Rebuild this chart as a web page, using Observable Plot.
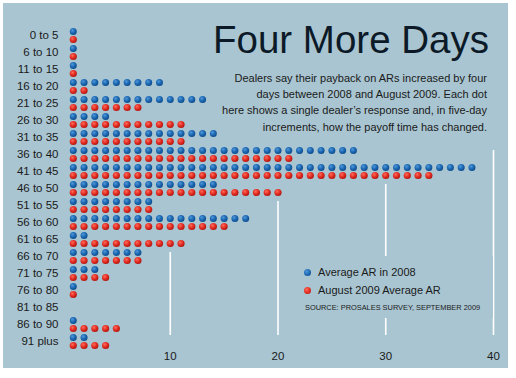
<!DOCTYPE html>
<html><head><meta charset="utf-8">
<script src="https://cdn.jsdelivr.net/npm/d3@7"></script>
<script src="https://cdn.jsdelivr.net/npm/@observablehq/plot@0.6"></script>
<style>
html,body{margin:0;padding:0;background:#fff;}
#wrap{position:relative;width:516px;height:378px;overflow:hidden;font-family:"Liberation Sans",Arial,sans-serif;color:#1a1a1a;}
#panel{position:absolute;left:3px;top:3px;width:505px;height:365px;background:#a9c5d1;}
#chart{position:absolute;left:0;top:0;}
#title{position:absolute;right:27px;top:21px;font-size:38.5px;line-height:1;color:#0c1a28;white-space:nowrap;}
#sub{position:absolute;right:29px;top:70px;text-align:right;font-size:11px;line-height:16.2px;white-space:nowrap;}
#legend{position:absolute;left:298px;top:256px;width:195px;height:62px;background:#a9c5d1;}
.item{position:absolute;left:20px;font-size:11px;line-height:14px;white-space:nowrap;}
.sw{position:absolute;left:-14px;top:3.5px;width:7px;height:7px;border-radius:50%;}
#src{position:absolute;left:7px;top:47px;font-size:7.4px;letter-spacing:0;white-space:nowrap;}
</style></head>
<body>
<div id="wrap">
  <div id="panel"></div>
  <div id="chart"></div>
  <div id="title">Four More Days</div>
  <div id="sub">Dealers say their payback on ARs increased by four<br>days between 2008 and August 2009. Each dot<br>here shows a single dealer’s response and, in five-day<br>increments, how the payoff time has changed.</div>
  <div id="legend"></div>
</div>
<script>
const rows = ["0 to 5","6 to 10","11 to 15","16 to 20","21 to 25","26 to 30","31 to 35","36 to 40","41 to 45","46 to 50","51 to 55","56 to 60","61 to 65","66 to 70","71 to 75","76 to 80","81 to 85","86 to 90","91 plus"];
const avg2008 = [1,1,1,9,13,4,14,27,38,14,8,17,2,7,3,1,0,1,2];
const aug2009 = [1,1,1,2,7,11,11,21,34,20,8,15,11,7,4,1,0,5,4];
const xTicks = [10,20,30,40];
const seriesNames = ["Average AR in 2008","August 2009 Average AR"];
const sourceText = "SOURCE: PROSALES SURVEY, SEPTEMBER 2009";

const blueDots = rows.flatMap((r,i)=>d3.range(1,avg2008[i]+1).map(k=>({row:r,k})));
const redDots = rows.flatMap((r,i)=>d3.range(1,aug2009[i]+1).map(k=>({row:r,k})));

// gridline segments start below the last row that reaches the tick value
const maxes = rows.map((r,i)=>Math.max(avg2008[i],aug2009[i]));
const longest = maxes.indexOf(d3.max(maxes));
const grid = xTicks.map(t=>{
  let idx = -1;
  maxes.forEach((m,i)=>{ if (m>=t) idx=i; });
  if (idx<0) idx = longest-2;
  return {t, from: rows[idx]};
});

const plot = Plot.plot({
  width:516, height:378,
  marginLeft:62, marginRight:23, marginTop:0, marginBottom:30,
  style:{background:"transparent", fontFamily:'"Liberation Sans",Arial,sans-serif', fontSize:"11.5px", color:"#1a1a1a"},
  x:{domain:[0,40], label:null},
  y:{type:"point", domain:rows, range:[25,351], label:null},
  marks:[
    Plot.ruleX(grid, {x:"t", y1:"from", y2:()=>rows[rows.length-1], insetTop:13, insetBottom:6, stroke:"white", strokeWidth:1.6}),
    Plot.dot(blueDots, {x:"k", y:"row", dy:-4, r:3.5, fill:"url(#gBlue)"}),
    Plot.dot(redDots, {x:"k", y:"row", dy:4, r:3.6, fill:"url(#gRed)"}),
    Plot.axisY({tickSize:0, tickPadding:4, fontSize:11.5}),
    Plot.axisX({ticks:xTicks, tickSize:0, tickPadding:3, fontSize:11.5})
  ]
});

const defs = d3.select(plot).insert("defs", ":first-child");
function grad(id, c0, c1, c2){
  const g = defs.append("radialGradient").attr("id",id).attr("cx","38%").attr("cy","35%").attr("r","70%");
  g.append("stop").attr("offset","0%").attr("stop-color",c0);
  g.append("stop").attr("offset","55%").attr("stop-color",c1);
  g.append("stop").attr("offset","100%").attr("stop-color",c2);
}
grad("gBlue","#4f97da","#1a66b0","#0d4a88");
grad("gRed","#ff6a5a","#e02a20","#a8140e");
document.getElementById("chart").appendChild(plot);

const leg = document.getElementById("legend");
const swatchFill = ["radial-gradient(circle at 38% 35%, #4f97da, #1a66b0 55%, #0d4a88)","radial-gradient(circle at 38% 35%, #ff6a5a, #e02a20 55%, #a8140e)"];
seriesNames.forEach((name,i)=>{
  const it = document.createElement("div");
  it.className="item";
  it.style.top = (9 + i*18) + "px";
  it.innerHTML = `<span class="sw" style="background:${swatchFill[i]}"></span>${name}`;
  leg.appendChild(it);
});
const src = document.createElement("div");
src.id="src"; src.textContent = sourceText;
leg.appendChild(src);
</script>
</body></html>
